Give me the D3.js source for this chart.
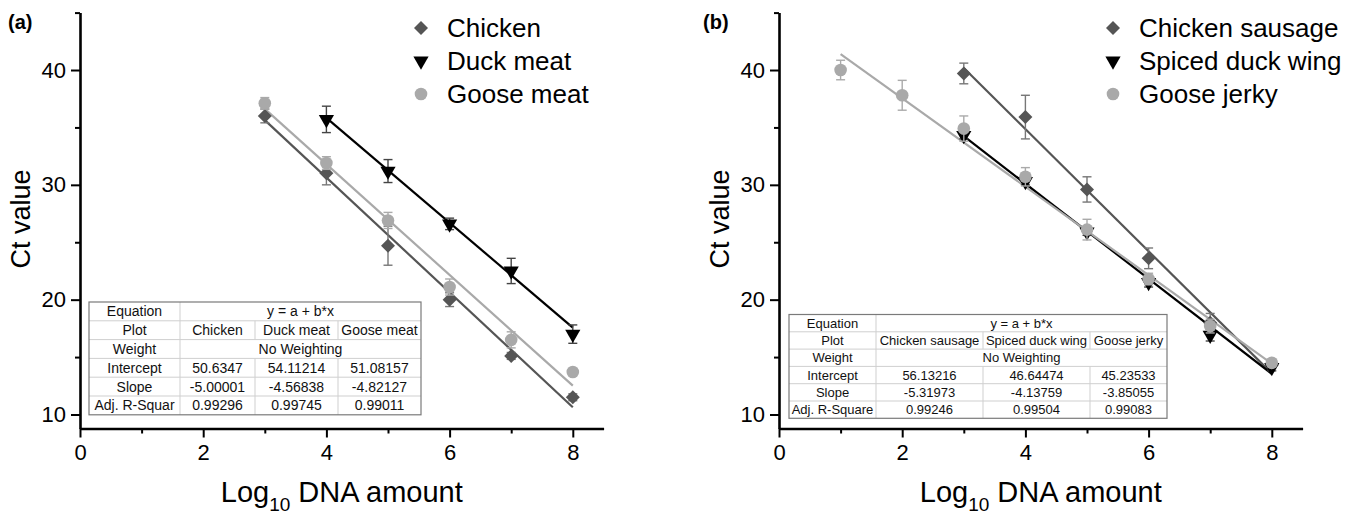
<!DOCTYPE html>
<html>
<head>
<meta charset="utf-8">
<script src="https://cdn.jsdelivr.net/npm/d3@7"></script>
<style>
body{margin:0;background:#fff;}
svg{display:block;font-family:"Liberation Sans",Arial,sans-serif;}
</style>
</head>
<body>
<svg></svg>
<script>
const xMajor = [0, 2, 4, 6, 8];
const xMinor = [1, 3, 5, 7];
const yMajor = [10, 20, 30, 40];
const yMinor = [15, 25, 35, 45];

// panel (a): mean Ct and error bar half-length
const namesA = ['Chicken', 'Duck meat', 'Goose meat'];
const chickenX = [3, 4, 5, 6, 7, 8];
const chickenCt = [36.0, 31.0, 24.7, 20.0, 15.1, 11.5];
const chickenErr = [0.6, 1.0, 1.7, 0.6, 0.3, 0.3];
const duckX = [4, 5, 6, 7, 8];
const duckCt = [35.7, 31.2, 26.6, 22.5, 17.0];
const duckErr = [1.15, 1.0, 0.5, 1.1, 0.8];
const gooseX = [3, 4, 5, 6, 7, 8];
const gooseCt = [37.1, 31.9, 26.9, 21.1, 16.5, 13.7];
const gooseErr = [0.5, 0.55, 0.7, 0.7, 0.7, 0.2];
const interceptA = ['50.6347', '54.11214', '51.08157'];
const slopeA = ['-5.00001', '-4.56838', '-4.82127'];
const adjR2A = ['0.99296', '0.99745', '0.99011'];

// panel (b)
const namesB = ['Chicken sausage', 'Spiced duck wing', 'Goose jerky'];
const sausageX = [3, 4, 5, 6, 7, 8];
const sausageCt = [39.7, 35.9, 29.6, 23.6, 18.0, 14.3];
const sausageErr = [0.9, 1.9, 1.1, 0.9, 0.8, 0.3];
const wingX = [3, 4, 5, 6, 7, 8];
const wingCt = [34.3, 30.3, 25.9, 21.5, 16.9, 14.1];
const wingErr = [0.3, 0.3, 0.3, 0.4, 0.5, 0.3];
const jerkyX = [1, 2, 3, 4, 5, 6, 7, 8];
const jerkyCt = [40.0, 37.8, 34.9, 30.7, 26.1, 21.8, 17.7, 14.5];
const jerkyErr = [0.85, 1.3, 1.1, 0.8, 0.9, 0.5, 0.6, 0.3];
const interceptB = ['56.13216', '46.64474', '45.23533'];
const slopeB = ['-5.31973', '-4.13759', '-3.85055'];
const adjR2B = ['0.99246', '0.99504', '0.99083'];

const colors = ['#555555', '#000000', '#a9a9a9'];
const errColors = ['#777777', '#444444', '#aaaaaa'];
const shapes = ['diamond', 'tri', 'circle'];

var svg = d3.select('svg').attr('width', 1357).attr('height', 515);

function zip(xs, ys, es){
	return xs.map((v, i) => ({x: v, y: ys[i], e: es ? es[i] : 0}));
}

function marker(sel, shape, col){
	if(shape == 'diamond'){
		sel.append('path').attr('d', d3.symbol(d3.symbolSquare, 98)())
		.attr('transform', 'rotate(45)').attr('fill', col);
	} else if(shape == 'tri'){
		sel.append('path').attr('d', d3.symbol(d3.symbolTriangle, 100)())
		.attr('transform', 'rotate(180)').attr('fill', col);
	} else {
		sel.append('path').attr('d', d3.symbol(d3.symbolCircle, 125)()).attr('fill', col);
	}
}

function drawTable(g, cols, top, rowH, fs, rows){
	var t = g.append('g').style('font-size', fs + 'px');
	var left = cols[0], right = cols[cols.length-1];
	t.append('rect').attr('x', left).attr('y', top)
	.attr('width', right-left).attr('height', rowH*rows.length)
	.attr('fill', '#fff').attr('stroke', 'none');
	rows.forEach((r, i) => {
		var y0 = top + i*rowH;
		if(i > 0)
			t.append('line').attr('x1', left).attr('x2', right).attr('y1', y0).attr('y2', y0)
			.attr('stroke', '#cfcfcf');
		var cells = r.length == 2 ? [[cols[0], cols[1], r[0]], [cols[1], right, r[1]]]
			: r.map((v, j) => [cols[j], cols[j+1], v]);
		cells.forEach((c, j) => {
			if(j > 0)
				t.append('line').attr('x1', c[0]).attr('x2', c[0]).attr('y1', y0).attr('y2', y0+rowH)
				.attr('stroke', '#cfcfcf');
			t.append('text').attr('x', (c[0]+c[1])/2).attr('y', y0 + rowH/2)
			.attr('dy', '0.36em').attr('text-anchor', 'middle').attr('fill', '#111').text(c[2]);
		});
	});
	t.append('rect').attr('x', left).attr('y', top)
	.attr('width', right-left).attr('height', rowH*rows.length)
	.attr('fill', 'none').attr('stroke', '#7a7a7a').attr('stroke-width', 1.2);
}

function drawPanel(p){
	var g = svg.append('g');
	var x = d3.scaleLinear().domain([0, 8.5]).range([p.left, p.left + 8.5*61.6]);
	var y = d3.scaleLinear().domain([8.78, 45]).range([428.5, 12.6]);

	// axes
	var ax = g.append('g').attr('transform', `translate(0,${y(8.78)})`)
	.call(d3.axisBottom(x).tickValues(xMajor).tickSize(9).tickPadding(7).tickSizeOuter(0));
	var axm = g.append('g').attr('transform', `translate(0,${y(8.78)})`)
	.call(d3.axisBottom(x).tickValues(xMinor).tickSize(5).tickFormat('').tickSizeOuter(0));
	var ay = g.append('g').attr('transform', `translate(${x(0)},0)`)
	.call(d3.axisLeft(y).tickValues(yMajor).tickSize(9).tickPadding(5).tickSizeOuter(0));
	var aym = g.append('g').attr('transform', `translate(${x(0)},0)`)
	.call(d3.axisLeft(y).tickValues(yMinor).tickSize(5).tickFormat('').tickSizeOuter(0));
	axm.select('.domain').remove();
	aym.select('.domain').remove();
	[ax, axm, ay, aym].forEach(a => {
		a.selectAll('.domain').attr('stroke', '#000').attr('stroke-width', 2.6);
		a.selectAll('.tick line').attr('stroke', '#000').attr('stroke-width', 2);
		a.selectAll('.tick text').attr('fill', '#000').style('font-size', '22px')
		.style('font-family', '"Liberation Sans",Arial,sans-serif');
	});

	// axis titles
	var xt = g.append('text').attr('x', (x(0)+x(8.5))/2).attr('y', 502)
	.attr('text-anchor', 'middle').style('font-size', '29px');
	xt.append('tspan').text('Log');
	xt.append('tspan').attr('dy', 9).style('font-size', '19px').text('10');
	xt.append('tspan').attr('dy', -9).text(' DNA amount');
	g.append('text').attr('transform', `translate(${x(0)-50},219) rotate(-90)`)
	.attr('text-anchor', 'middle').style('font-size', '27px').text('Ct value');

	// panel tag
	g.append('text').attr('x', p.tagX).attr('y', 29).style('font-size', '20px')
	.style('font-weight', 'bold').text(p.tag);

	// table
	drawTable(g, p.cols, p.tableTop, p.rowH, p.tableFs, [
		['Equation', 'y = a + b*x'],
		['Plot'].concat(p.names),
		['Weight', 'No Weighting'],
		['Intercept'].concat(p.intercept),
		['Slope'].concat(p.slope),
		[p.r2Label].concat(p.r2)
	]);

	// fit lines
	p.series.forEach((s, i) => {
		var a = +p.intercept[i], b = +p.slope[i];
		var ext = d3.extent(s, d => d.x);
		g.append('line')
		.attr('x1', x(ext[0])).attr('y1', y(a + b*ext[0]))
		.attr('x2', x(ext[1])).attr('y2', y(a + b*ext[1]))
		.attr('stroke', colors[i]).attr('stroke-width', 2.2);
	});

	// error bars and points
	p.series.forEach((s, i) => {
		var eg = g.append('g').attr('stroke', errColors[i]).attr('stroke-width', 1.4);
		s.forEach(d => {
			eg.append('line').attr('x1', x(d.x)).attr('x2', x(d.x))
			.attr('y1', y(d.y - d.e)).attr('y2', y(d.y + d.e));
			[d.y - d.e, d.y + d.e].forEach(v => {
				eg.append('line').attr('x1', x(d.x)-4.5).attr('x2', x(d.x)+4.5)
				.attr('y1', y(v)).attr('y2', y(v));
			});
		});
		g.selectAll(null).data(s).enter().append('g')
		.attr('transform', d => `translate(${x(d.x)},${y(d.y)})`)
		.each(function(){ marker(d3.select(this), shapes[i], colors[i]); });
	});

	// legend
	var lg = g.append('g').attr('transform', `translate(${p.legX},28)`);
	p.names.forEach((n, i) => {
		var row = lg.append('g').attr('transform', `translate(0,${i*33})`);
		marker(row, shapes[i], colors[i]);
		row.append('text').attr('x', 26).attr('dy', '0.36em').style('font-size', '26px')
		.attr('fill', '#000').text(n);
	});
}

drawPanel({
	tag: '(a)', tagX: 8, left: 80, legX: 421,
	names: namesA, intercept: interceptA, slope: slopeA, r2: adjR2A, r2Label: 'Adj. R-Squar',
	cols: [89, 180, 255, 338, 421], tableTop: 302, rowH: 18.8, tableFs: 14,
	series: [zip(chickenX, chickenCt, chickenErr), zip(duckX, duckCt, duckErr), zip(gooseX, gooseCt, gooseErr)]
});

drawPanel({
	tag: '(b)', tagX: 703, left: 779, legX: 1113,
	names: namesB, intercept: interceptB, slope: slopeB, r2: adjR2B, r2Label: 'Adj. R-Square',
	cols: [789, 876, 983, 1090, 1167], tableTop: 314.5, rowH: 17.3, tableFs: 13,
	series: [zip(sausageX, sausageCt, sausageErr), zip(wingX, wingCt, wingErr), zip(jerkyX, jerkyCt, jerkyErr)]
});
</script>
</body>
</html>
